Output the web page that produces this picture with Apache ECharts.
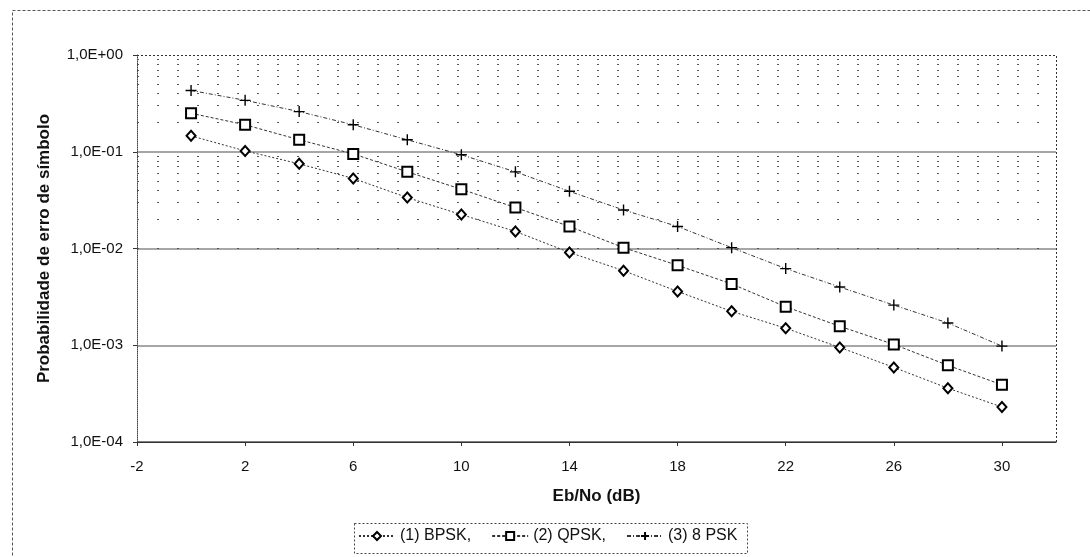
<!DOCTYPE html>
<html>
<head>
<meta charset="utf-8">
<script src="https://cdn.jsdelivr.net/npm/echarts@6/dist/echarts.min.js"></script>
<style>
    html, body { margin: 0; padding: 0; background: #fff; }
    #chart { width: 1090px; height: 557px; }
</style>
</head>
<body>
<div id="chart"></div>
<script>
// #region Data
const ebNo = [0, 2, 4, 6, 8, 10, 12, 14, 16, 18, 20, 22, 24, 26, 28, 30];

const bpsk = [0.146, 0.102, 0.075, 0.053, 0.0336, 0.0224, 0.015, 0.0091, 0.0059, 0.0036, 0.00224, 0.0015, 0.00095, 0.00059, 0.00036, 0.00023];
const qpsk = [0.25, 0.19, 0.133, 0.095, 0.062, 0.041, 0.0265, 0.0169, 0.0102, 0.0067, 0.0043, 0.0025, 0.00157, 0.00102, 0.00062, 0.00039];
const psk8 = [0.43, 0.34, 0.26, 0.19, 0.133, 0.093, 0.062, 0.039, 0.025, 0.0169, 0.0102, 0.0062, 0.004, 0.0026, 0.0017, 0.00098];

const seriesNames = ["(1) BPSK,", "(2) QPSK,", "(3) 8 PSK"];

const decades = [1e-4, 1e-3, 1e-2, 1e-1];
const minorSteps = [2, 3, 4, 5, 6, 7, 8, 9];
// #endregion

const FONT = "'Liberation Sans', Arial, sans-serif";
const LINE = "#333";

// minor log gridlines (2..9 of each decade)
const minorLines = [];
decades.forEach(d => minorSteps.forEach(m => minorLines.push({ yAxis: +(d * m).toPrecision(3) })));

const fmtExp = v => {
    const e = Math.round(Math.log10(v));
    const s = e < 0 ? "-" : "+";
    const a = Math.abs(e);
    return "1,0E" + s + (a < 10 ? "0" + a : a);
};

const pairs = arr => ebNo.map((x, i) => [x, arr[i]]);

const plusPath = "path://M0,5 L10,5 M5,0 L5,10";

const chart = echarts.init(document.getElementById("chart"), null, { renderer: "canvas" });

chart.setOption({
    animation: false,
    backgroundColor: "#fff",
    textStyle: { fontFamily: FONT },
    graphic: [
        {
            type: "rect", left: 10, top: 8, silent: true, z: -1,
            shape: { width: 1100, height: 600 },
            style: { fill: "none", stroke: "#555", lineWidth: 1, lineDash: [3, 2] }
        },
        {
            type: "rect", left: 352, top: 521, silent: true,
            shape: { width: 393, height: 30 },
            style: { fill: "none", stroke: "#444", lineWidth: 1, lineDash: [2, 2] }
        }
    ],
    grid: { left: 137, right: 34, top: 55, bottom: 115, containLabel: false },
    legend: {
        data: seriesNames,
        left: 358, top: 528,
        itemWidth: 36, itemHeight: 10, itemGap: 20,
        padding: 0,
        textStyle: { fontFamily: FONT, fontSize: 16, color: "#111" }
    },
    xAxis: {
        type: "value",
        min: -2, max: 32, interval: 4,
        name: "Eb/No (dB)",
        nameLocation: "middle",
        nameGap: 46,
        nameTextStyle: { fontFamily: FONT, fontSize: 17, fontWeight: "bold", color: "#111" },
        axisLine: { show: true, onZero: false, lineStyle: { color: "#333", width: 1.2 } },
        axisTick: { show: true, inside: false, length: 4, lineStyle: { color: "#333" } },
        axisLabel: { showMaxLabel: false, margin: 17, fontFamily: FONT, fontSize: 15, color: "#111" },
        splitLine: { show: false }
    },
    yAxis: {
        type: "log",
        logBase: 10,
        min: 1e-4, max: 1,
        name: "Probabilidade de erro de símbolo",
        nameLocation: "middle",
        nameGap: 84,
        nameTextStyle: { fontFamily: FONT, fontSize: 17, fontWeight: "bold", color: "#111" },
        axisLine: { show: true, onZero: false, lineStyle: { color: "#444", type: "dotted" } },
        axisTick: { show: true, length: 4, lineStyle: { color: "#333" } },
        axisLabel: { margin: 14, fontFamily: FONT, fontSize: 15, color: "#111", formatter: fmtExp },
        splitLine: {
            show: true,
            lineStyle: { color: ["#555", "#888", "#888", "#888", "rgba(0,0,0,0)"], width: 1.5 }
        }
    },
    series: [
        {
            name: seriesNames[0],
            type: "line",
            data: pairs(bpsk),
            symbol: "emptyDiamond",
            symbolSize: [9, 10],
            lineStyle: { color: LINE, width: 1, type: [2, 2] },
            itemStyle: { color: "#000", borderColor: "#000", borderWidth: 1.4 },
            z: 5,
            markLine: {
                silent: true,
                symbol: "none",
                label: { show: false },
                lineStyle: { color: "#555", width: 1, type: [2, 18] },
                data: minorLines.concat([
                    { yAxis: 1, lineStyle: { color: "#333", type: [2, 2] } },
                    { xAxis: 32, lineStyle: { color: "#333", type: [2, 2] } }
                ])
            }
        },
        {
            name: seriesNames[1],
            type: "line",
            data: pairs(qpsk),
            symbol: "emptyRect",
            symbolSize: 10,
            lineStyle: { color: LINE, width: 1, type: [3, 2] },
            itemStyle: { color: "#000", borderColor: "#000", borderWidth: 1.4 },
            z: 5
        },
        {
            name: seriesNames[2],
            type: "line",
            data: pairs(psk8),
            symbol: plusPath,
            symbolSize: 11,
            lineStyle: { color: LINE, width: 1, type: [4, 2, 1, 2] },
            itemStyle: { color: "#000", borderColor: "#000", borderWidth: 1.4 },
            z: 5
        }
    ]
});
</script>
</body>
</html>
